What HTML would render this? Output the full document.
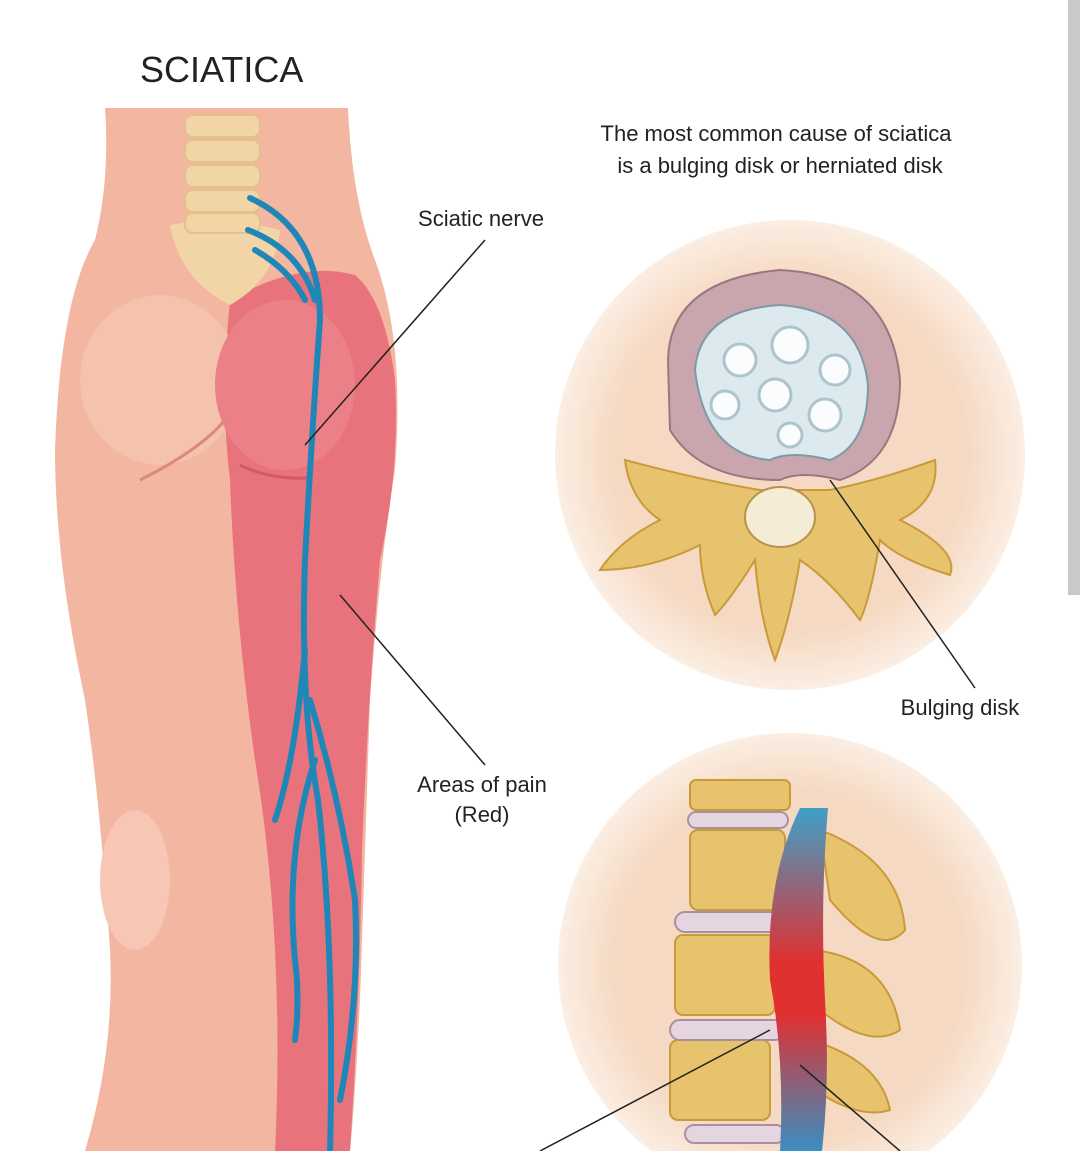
<!DOCTYPE html>
<html><head><meta charset="utf-8"><style>
html,body{margin:0;padding:0;background:#fff;width:1080px;height:1151px;overflow:hidden}
svg{display:block}
text{font-family:"Liberation Sans",sans-serif;fill:#222}
</style></head><body>
<svg width="1080" height="1151" viewBox="0 0 1080 1151" xmlns="http://www.w3.org/2000/svg">
<defs>
<radialGradient id="cg" cx="50%" cy="50%" r="50%"><stop offset="0.75" stop-color="#f6d9c2"/><stop offset="1" stop-color="#fbeee3"/></radialGradient>
<linearGradient id="ng" x1="0" y1="0" x2="0" y2="1"><stop offset="0" stop-color="#3fa0c8"/><stop offset="0.45" stop-color="#e03030"/><stop offset="0.6" stop-color="#e03030"/><stop offset="1" stop-color="#3a8fc0"/></linearGradient>
</defs>
<rect x="1068" y="0" width="12" height="595" fill="#c9c9c9"/>
<text x="140" y="82" font-size="36">SCIATICA</text>
<path d="M105 108 L348 108 Q352 200 375 260 Q405 340 395 470 Q380 560 370 700 Q365 850 360 1000 Q355 1100 350 1151 L85 1151 Q115 1050 110 950 Q100 800 85 700 Q55 560 55 450 Q60 300 95 240 Q110 180 105 108Z" fill="#f3b6a0"/>
<path d="M230 300 Q300 260 355 275 Q385 300 395 380 Q400 470 380 560 Q368 700 362 850 Q360 1000 350 1151 L275 1151 Q280 1050 275 950 Q270 850 255 760 Q235 620 230 480 Q220 400 230 300Z" fill="#e9737c"/>
<ellipse cx="160" cy="380" rx="80" ry="85" fill="#f5c2ad"/>
<ellipse cx="285" cy="385" rx="70" ry="85" fill="#ec8088"/>
<path d="M140 480 Q200 450 225 420" stroke="#d98a80" stroke-width="3" fill="none"/>
<path d="M240 465 Q270 480 310 478" stroke="#d05a65" stroke-width="3" fill="none"/>
<ellipse cx="135" cy="880" rx="35" ry="70" fill="#f7c6b4"/>
<path d="M170 225 Q225 215 280 230 Q275 280 230 305 Q180 280 170 225Z" fill="#f1d5a6"/>
<g fill="#f1d5a6" stroke="#e4c08a" stroke-width="2">
<rect x="185" y="115" width="75" height="22" rx="8"/><rect x="185" y="140" width="75" height="22" rx="8"/>
<rect x="185" y="165" width="75" height="22" rx="8"/><rect x="185" y="190" width="75" height="22" rx="8"/>
<rect x="185" y="213" width="75" height="20" rx="8"/>
</g>
<g stroke="#1f87b8" stroke-width="6" fill="none" stroke-linecap="round">
<path d="M250 198 Q320 230 320 320 Q312 430 305 560 Q300 700 318 800 Q335 950 330 1151"/>
<path d="M248 230 Q300 250 315 300"/>
<path d="M255 250 Q290 270 305 300"/>
<path d="M305 650 Q295 760 275 820"/>
<path d="M310 700 Q340 800 355 900 Q360 1000 340 1100"/>
<path d="M315 760 Q285 850 295 960 Q300 1000 295 1040"/>
</g>
<g stroke="#222" stroke-width="1.5">
<line x1="485" y1="240" x2="305" y2="445"/>
<line x1="485" y1="765" x2="340" y2="595"/>
</g>
<circle cx="790" cy="455" r="235" fill="url(#cg)"/>
<circle cx="790" cy="965" r="232" fill="url(#cg)"/>
<path d="M625 460 Q700 480 760 490 L830 490 Q880 480 935 460 Q940 500 900 520 Q960 550 950 575 Q900 560 880 540 Q870 600 860 620 Q830 580 800 560 Q790 620 775 660 Q760 620 755 560 Q730 600 715 615 Q700 580 700 545 Q650 570 600 570 Q620 540 660 520 Q630 500 625 460Z" fill="#e8c36e" stroke="#c99a3a" stroke-width="2"/>
<ellipse cx="780" cy="517" rx="35" ry="30" fill="#f4ecd5" stroke="#b89050" stroke-width="2"/>
<path d="M668 360 Q670 280 780 270 Q890 275 900 380 Q900 460 840 480 Q800 470 780 480 Q700 480 670 430Z" fill="#c9a6ad" stroke="#9b7680" stroke-width="2"/>
<path d="M695 370 Q700 310 780 305 Q860 310 868 385 Q868 445 830 460 Q790 450 770 460 Q705 455 695 370Z" fill="#dce9ee" stroke="#7f9aa6" stroke-width="2"/>
<g fill="#fff" stroke="#a8c0ca" stroke-width="3" opacity="0.9">
<circle cx="740" cy="360" r="16"/><circle cx="790" cy="345" r="18"/><circle cx="835" cy="370" r="15"/>
<circle cx="725" cy="405" r="14"/><circle cx="775" cy="395" r="16"/><circle cx="825" cy="415" r="16"/><circle cx="790" cy="435" r="12"/>
</g>
<line x1="975" y1="688" x2="830" y2="480" stroke="#222" stroke-width="1.5"/>
<g fill="#e8c36e" stroke="#c99a3a" stroke-width="2">
<rect x="690" y="780" width="100" height="30" rx="6"/>
<rect x="690" y="830" width="95" height="80" rx="8"/>
<rect x="675" y="935" width="100" height="80" rx="8"/>
<rect x="670" y="1040" width="100" height="80" rx="8"/>
<path d="M820 830 Q900 860 905 930 Q880 960 830 900Z"/>
<path d="M815 950 Q890 960 900 1030 Q870 1050 820 1010Z"/>
<path d="M810 1040 Q880 1060 890 1110 Q860 1120 815 1090Z"/>
</g>
<g fill="#e4d5e0" stroke="#a890a0" stroke-width="2">
<rect x="688" y="812" width="100" height="16" rx="8"/>
<rect x="675" y="912" width="105" height="20" rx="10"/>
<rect x="670" y="1020" width="115" height="20" rx="10"/>
<rect x="685" y="1125" width="100" height="18" rx="9"/>
</g>
<path d="M800 808 L828 808 Q820 900 825 1000 Q830 1080 822 1151 L780 1151 Q785 1060 770 980 Q765 880 800 808Z" fill="url(#ng)"/>
<line x1="540" y1="1151" x2="770" y2="1030" stroke="#222" stroke-width="1.5"/>
<line x1="900" y1="1151" x2="800" y2="1065" stroke="#222" stroke-width="1.5"/>
<g font-size="22" text-anchor="middle">
<text x="776" y="141">The most common cause of sciatica</text>
<text x="780" y="173">is a bulging disk or herniated disk</text>
<text x="481" y="226">Sciatic nerve</text>
<text x="960" y="715">Bulging disk</text>
<text x="482" y="792">Areas of pain</text>
<text x="482" y="822">(Red)</text>
</g>
</svg>
</body></html>
